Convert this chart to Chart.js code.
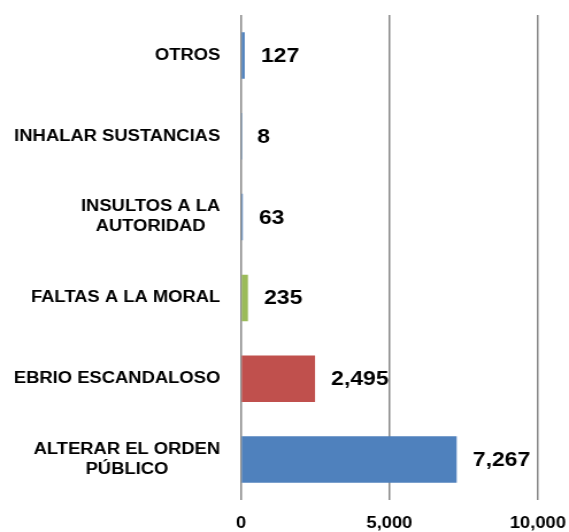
<!DOCTYPE html>
<html>
<head>
<meta charset="utf-8">
<script src="https://cdn.jsdelivr.net/npm/chart.js@4"></script>
<style>
  body { margin: 0; background: #fff; overflow: hidden; }
  #wrap { width: 495px; height: 532px; transform: scaleX(1.1495); transform-origin: 0 0; }
</style>
</head>
<body>
<div id="wrap"><canvas id="myChart"></canvas></div>
<script>
// categories top to bottom, as on the picture
let categories = [
  ['OTROS'],
  ['INHALAR SUSTANCIAS'],
  ['INSULTOS A LA', 'AUTORIDAD'],
  ['FALTAS A LA MORAL'],
  ['EBRIO ESCANDALOSO'],
  ['ALTERAR EL ORDEN', 'PÚBLICO']
];
let values = [127, 8, 63, 235, 2495, 7267];
let barColors = ['#4F81BD', '#4F81BD', '#4F81BD', '#9BBB59', '#C0504D', '#4F81BD'];
let xTicks = [0, 5000, 10000];

const fontFamily = '"Liberation Sans", Arial, sans-serif';

function fmt(n) {
  return n.toLocaleString('en-US');
}

// draws the category labels (lines centred in a right aligned block) and the value labels
let labelPlugin = {
  id: 'labelPlugin',
  afterDatasetsDraw(chart) {
    let ctx = chart.ctx;
    let yScale = chart.scales.y;
    let xScale = chart.scales.x;
    let left = chart.chartArea.left;
    ctx.save();
    ctx.fillStyle = '#000';
    ctx.textBaseline = 'middle';

    ctx.font = 'bold 16px ' + fontFamily;
    ctx.textAlign = 'center';
    let lineHeight = 20;
    for (let i = 0; i < categories.length; i++) {
      let lines = categories[i];
      let w = 0;
      for (let j = 0; j < lines.length; j++) {
        w = Math.max(w, ctx.measureText(lines[j]).width);
      }
      let cx = left - 18 - w / 2;
      let cy = yScale.getPixelForValue(i);
      let top = cy - (lines.length - 1) * lineHeight / 2;
      for (let j = 0; j < lines.length; j++) {
        ctx.fillText(lines[j], cx, top + j * lineHeight);
      }
    }

    ctx.font = 'bold 20px ' + fontFamily;
    ctx.textAlign = 'left';
    for (let i = 0; i < values.length; i++) {
      let x = xScale.getPixelForValue(values[i]) + 14;
      let y = yScale.getPixelForValue(i) + 1;
      ctx.fillText(fmt(values[i]), x, y);
    }
    ctx.restore();
  }
};

const ctx = document.getElementById('myChart').getContext('2d');
const myChart = new Chart(ctx, {
  type: 'bar',
  data: {
    labels: categories,
    datasets: [{
      data: values,
      backgroundColor: barColors,
      borderWidth: 0,
      categoryPercentage: 1,
      barPercentage: 0.575
    }]
  },
  options: {
    indexAxis: 'y',
    responsive: true,
    maintainAspectRatio: false,
    animation: false,
    devicePixelRatio: 1,
    layout: {
      padding: { left: 209.6, right: 27.1, top: 15, bottom: 0 }
    },
    plugins: {
      legend: { display: false },
      tooltip: { enabled: false }
    },
    scales: {
      y: {
        display: false
      },
      x: {
        min: 0,
        max: 10000,
        afterBuildTicks(scale) {
          scale.ticks = xTicks.map(v => ({ value: v }));
        },
        afterFit(scale) {
          scale.height = 32;
          scale.paddingLeft = 0;
          scale.paddingRight = 0;
        },
        border: { display: false },
        grid: {
          color: '#878787',
          lineWidth: 1.5,
          drawTicks: false
        },
        ticks: {
          padding: 14,
          color: '#000',
          maxRotation: 0,
          font: { family: fontFamily, size: 16, weight: 'bold' },
          callback: function(value) {
            return fmt(value);
          }
        }
      }
    }
  },
  plugins: [labelPlugin]
});
</script>
</body>
</html>
